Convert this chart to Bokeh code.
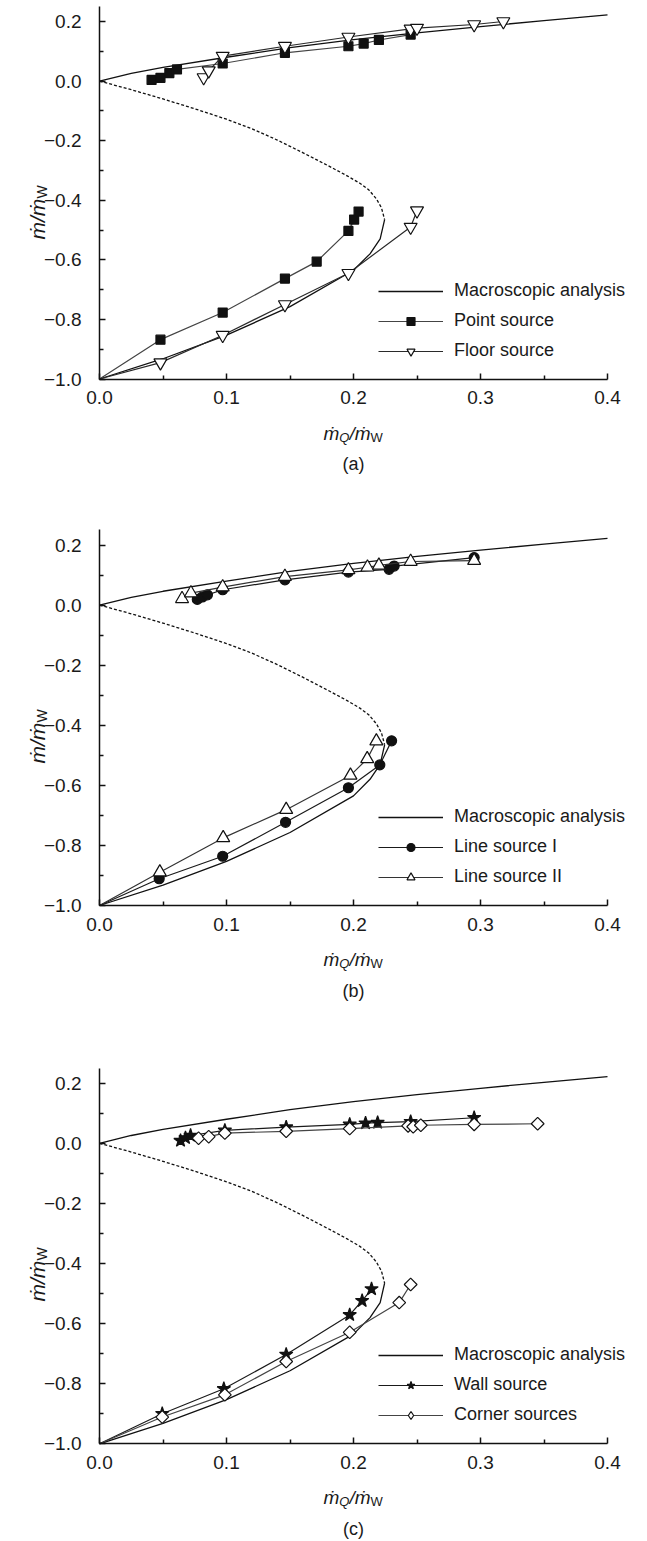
import math
from bokeh.plotting import figure
from bokeh.models import Range1d, FixedTicker, Legend, LegendItem, Label, LinearAxis
from bokeh.layouts import column
from bokeh.embed import file_html
from bokeh.resources import INLINE

# ---------------- axes ----------------
x_major = [0.0, 0.1, 0.2, 0.3, 0.4]
x_minor = [0.05, 0.15, 0.25, 0.35]
x_labels = ["0.0", "0.1", "0.2", "0.3", "0.4"]
y_major = [-1.0, -0.8, -0.6, -0.4, -0.2, 0.0, 0.2]
y_minor = [-0.9, -0.7, -0.5, -0.3, -0.1, 0.1]
y_labels = ["\u22121.0", "\u22120.8", "\u22120.6", "\u22120.4", "\u22120.2", "0.0", "0.2"]

# ---------------- macroscopic analysis (same in all panels) ----------------
macro_upper_x = [0.0, 0.025, 0.05, 0.1, 0.15, 0.2, 0.25, 0.3, 0.35, 0.4]
macro_upper_y = [0.0, 0.026, 0.046, 0.080, 0.112, 0.139, 0.162, 0.183, 0.203, 0.222]
macro_mid_x = [0.0, 0.025, 0.05, 0.075, 0.1, 0.12, 0.14, 0.16, 0.18, 0.195, 0.205, 0.212, 0.218, 0.222, 0.2245]
macro_mid_y = [0.0, -0.029, -0.06, -0.093, -0.128, -0.16, -0.198, -0.24, -0.284, -0.318, -0.343, -0.365, -0.395, -0.425, -0.465]
macro_lower_x = [0.2245, 0.221, 0.213, 0.2, 0.15, 0.1, 0.05, 0.0]
macro_lower_y = [-0.465, -0.53, -0.58, -0.635, -0.757, -0.853, -0.932, -1.0]

# ---------------- panel (a) ----------------
point_up_x = [0.041, 0.048, 0.055, 0.061, 0.097, 0.146, 0.196, 0.208, 0.220, 0.245]
point_up_y = [0.004, 0.011, 0.027, 0.039, 0.059, 0.095, 0.117, 0.126, 0.138, 0.156]
point_low_x = [0.0, 0.048, 0.097, 0.146, 0.171, 0.196, 0.2005, 0.204]
point_low_y = [-1.0, -0.868, -0.777, -0.663, -0.606, -0.503, -0.465, -0.438]
floor_up_x = [0.082, 0.086, 0.097, 0.146, 0.196, 0.245, 0.250, 0.295, 0.318]
floor_up_y = [0.012, 0.035, 0.084, 0.117, 0.148, 0.175, 0.178, 0.190, 0.200]
floor_low_x = [0.0, 0.048, 0.097, 0.146, 0.196, 0.245, 0.250]
floor_low_y = [-1.0, -0.945, -0.853, -0.750, -0.645, -0.490, -0.435]

# ---------------- panel (b) ----------------
line1_up_x = [0.077, 0.081, 0.085, 0.097, 0.146, 0.196, 0.228, 0.232, 0.295]
line1_up_y = [0.019, 0.027, 0.034, 0.051, 0.084, 0.110, 0.119, 0.130, 0.158]
line1_low_x = [0.0, 0.047, 0.097, 0.1465, 0.196, 0.2207, 0.230]
line1_low_y = [-1.0, -0.911, -0.836, -0.723, -0.608, -0.532, -0.452]
line2_up_x = [0.065, 0.072, 0.097, 0.146, 0.196, 0.211, 0.220, 0.245, 0.295]
line2_up_y = [0.021, 0.040, 0.060, 0.095, 0.117, 0.126, 0.132, 0.145, 0.148]
line2_low_x = [0.0, 0.0475, 0.0974, 0.147, 0.1976, 0.2108, 0.218]
line2_low_y = [-1.0, -0.889, -0.775, -0.681, -0.567, -0.512, -0.453]

# ---------------- panel (c) ----------------
wall_up_x = [0.0638, 0.0677, 0.0717, 0.0987, 0.147, 0.197, 0.2095, 0.219, 0.245, 0.295]
wall_up_y = [0.009, 0.018, 0.026, 0.043, 0.054, 0.063, 0.067, 0.069, 0.072, 0.085]
wall_low_x = [0.0, 0.0494, 0.0979, 0.147, 0.197, 0.2068, 0.2142]
wall_low_y = [-1.0, -0.900, -0.817, -0.703, -0.571, -0.524, -0.485]
corner_up_x = [0.078, 0.086, 0.0987, 0.147, 0.197, 0.243, 0.247, 0.253, 0.295, 0.345]
corner_up_y = [0.017, 0.022, 0.034, 0.040, 0.049, 0.058, 0.055, 0.060, 0.063, 0.065]
corner_low_x = [0.0, 0.0494, 0.0987, 0.147, 0.197, 0.236, 0.245]
corner_low_y = [-1.0, -0.911, -0.837, -0.726, -0.629, -0.530, -0.470]

FONT = "Liberation Sans"
INK = "#111111"
TXT = "#1a1a1a"
W = 647
X0_PX, X04_PX = 99.0, 607.0          # pixel columns of x = 0 and x = 0.4


def make_panel(height, y02_px, ym1_px, tag, series, legend_rows_top):
    # frame covers the whole canvas; axes are pinned at x=0 / y=-1
    xppu = (X04_PX - X0_PX) / 0.4
    yppu = (ym1_px - y02_px) / 1.2
    x_start = -X0_PX / xppu
    x_end = 0.4 + (W - X04_PX) / xppu
    y_top = 0.2 + y02_px / yppu
    y_bot = -1.0 - (height - ym1_px) / yppu

    p = figure(width=W, height=height, x_range=Range1d(x_start, x_end), y_range=Range1d(y_bot, y_top),
               min_border=0, min_border_left=0, min_border_right=0, min_border_top=0, min_border_bottom=0,
               x_axis_location=None, y_axis_location=None,
               output_backend="svg", toolbar_location=None)
    p.outline_line_color = None
    p.grid.visible = False
    p.background_fill_color = "white"
    p.border_fill_color = "white"

    xa = LinearAxis(fixed_location=-1.0, bounds=(0.0, 0.4))
    ya = LinearAxis(fixed_location=0.0, bounds=(-1.0, 0.25))
    p.add_layout(xa, "below")
    p.add_layout(ya, "left")
    for ax, major, minor, labels in ((xa, x_major, x_minor, x_labels),
                                     (ya, y_major, y_minor, y_labels)):
        ax.ticker = FixedTicker(ticks=major, minor_ticks=minor)
        ax.major_label_overrides = {float(k): v for k, v in zip(major, labels)}
        ax.major_tick_in = 6
        ax.major_tick_out = 0
        ax.minor_tick_in = 4
        ax.minor_tick_out = 0
        ax.axis_line_width = 1.5
        ax.axis_line_color = INK
        ax.major_tick_line_width = 1.5
        ax.minor_tick_line_width = 1.5
        ax.major_tick_line_color = INK
        ax.minor_tick_line_color = INK
        ax.major_label_text_font = FONT
        ax.major_label_text_font_size = "19px"
        ax.major_label_text_color = TXT
    xa.major_label_standoff = 12
    ya.major_label_standoff = 18

    # macroscopic
    m1 = p.line(macro_upper_x, macro_upper_y, line_color=INK, line_width=1.3)
    p.line(macro_lower_x, macro_lower_y, line_color=INK, line_width=1.3)
    p.line(macro_mid_x, macro_mid_y, line_color=INK, line_width=1.3, line_dash="3 2")
    items = [LegendItem(label="Macroscopic analysis", renderers=[m1])]

    for s in series:
        name, ux, uy, lx, ly, marker, fill, size, lcolor, angle, leg_marker = s
        l1 = p.line(ux, uy, line_color=lcolor, line_width=1.2)
        p.line(lx, ly, line_color=lcolor, line_width=1.2)
        sc = p.scatter(ux, uy, marker=marker, size=size, fill_color=fill, line_color=INK,
                       line_width=1.2, angle=angle)
        p.scatter(lx[1:], ly[1:], marker=marker, size=size, fill_color=fill, line_color=INK,
                  line_width=1.2, angle=angle)
        if leg_marker is not None:
            sc = p.scatter(ux[:1], uy[:1], marker=leg_marker, size=size, fill_color=fill,
                           line_color=INK, line_width=1.2, visible=False)
        items.append(LegendItem(label=name, renderers=[l1, sc]))

    pitch = 29
    legend_bottom = legend_rows_top + 2 * pitch + 10
    leg = Legend(items=items, location=(378, height - legend_bottom))
    leg.glyph_width = 65
    leg.glyph_height = 20
    leg.label_height = 20
    leg.label_standoff = 11
    leg.spacing = pitch - 20
    leg.padding = 0
    leg.margin = 0
    leg.background_fill_alpha = 0
    leg.border_line_alpha = 0
    leg.label_text_font = FONT
    leg.label_text_font_size = "18px"
    leg.label_text_color = TXT
    p.add_layout(leg)

    # x axis label  m_Q / m_W
    xb = height - (ym1_px + 54)
    cx = (X0_PX + X04_PX) / 2
    x_start_lbl = cx - 30
    pieces = [("\u1e41", x_start_lbl, xb, "19px", "italic"),
              ("Q", x_start_lbl + 15.8, xb - 4, "13px", "italic"),
              ("/\u1e41", x_start_lbl + 25.9, xb, "19px", "italic"),
              ("W", x_start_lbl + 47.0, xb - 4, "13px", "normal")]
    for txt, x, y, fs, st in pieces:
        p.add_layout(Label(x=x, y=y, x_units="screen", y_units="screen", text=txt,
                           text_font=FONT, text_font_size=fs, text_font_style=st,
                           text_align="left", text_baseline="alphabetic", text_color=TXT))
    # panel tag
    p.add_layout(Label(x=cx, y=height - (ym1_px + 85), x_units="screen", y_units="screen", text=tag,
                       text_font=FONT, text_font_size="18px", text_align="center",
                       text_baseline="middle", text_color=TXT))
    # y axis label  m / m_W (rotated)
    yc = 211
    ys = height - (yc + 28)
    p.add_layout(Label(x=37, y=ys, x_units="screen", y_units="screen", text="\u1e41/\u1e41",
                       text_font=FONT, text_font_size="21px", text_font_style="italic",
                       angle=math.pi / 2, text_align="left", text_baseline="alphabetic",
                       text_color=TXT))
    p.add_layout(Label(x=41, y=ys + 41, x_units="screen", y_units="screen", text="W",
                       text_font=FONT, text_font_size="14px",
                       angle=math.pi / 2, text_align="left", text_baseline="alphabetic",
                       text_color=TXT))
    return p


pa = make_panel(524, 21.0, 378.5, "(a)", [
    ("Point source", point_up_x, point_up_y, point_low_x, point_low_y, "square", INK, 9, "#444444", 0.0, None),
    ("Floor source", floor_up_x, floor_up_y, floor_low_x, floor_low_y, "inverted_triangle", "white", 13, "#2a2a2a", 0.0, None),
], 293)
pb = make_panel(538, 20.5, 381.0, "(b)", [
    ("Line source I", line1_up_x, line1_up_y, line1_low_x, line1_low_y, "circle", INK, 10, "#1a1a1a", 0.0, None),
    ("Line source II", line2_up_x, line2_up_y, line2_low_x, line2_low_y, "triangle", "white", 13, "#333333", 0.0, None),
], 295)
pc = make_panel(479, 20.7, 381.3, "(c)", [
    ("Wall source", wall_up_x, wall_up_y, wall_low_x, wall_low_y, "star", INK, 14, "#1a1a1a", 0.0, None),
    ("Corner sources", corner_up_x, corner_up_y, corner_low_x, corner_low_y, "square", "white", 9, "#444444", math.pi / 4, "diamond"),
], 295)

layout = column(pa, pb, pc, spacing=0)
open("out.html", "w").write(file_html(layout, INLINE))
